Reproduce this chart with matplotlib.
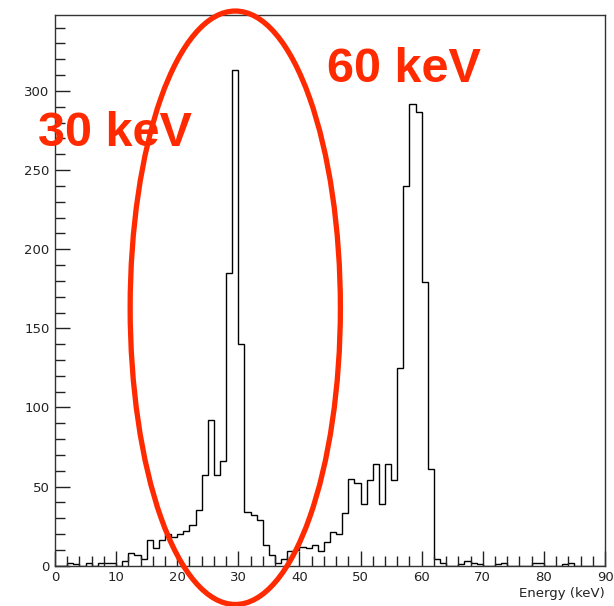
import numpy as np
import matplotlib
matplotlib.use('Agg')
import matplotlib.pyplot as plt
from matplotlib.patches import Ellipse
from matplotlib.ticker import MultipleLocator

# ── data: 1 keV bins from 0 to 90 keV ────────────────────────────────────────
bin_edges = np.arange(0, 91, 1)
counts = [
    0, 0, 2, 1, 0, 2, 0, 2, 2, 2,
    0, 3, 8, 7, 4, 16, 11, 16, 20, 18,
    20, 22, 26, 35, 57, 92, 57, 66, 185, 313,
    140, 34, 32, 29, 13, 7, 2, 4, 9, 10,
    12, 11, 13, 9, 15, 21, 20, 33, 55, 52,
    39, 54, 64, 39, 64, 54, 125, 240, 292, 287,
    179, 61, 4, 2, 0, 0, 1, 3, 2, 1,
    0, 0, 1, 2, 0, 0, 0, 0, 2, 2,
    0, 0, 0, 1, 2, 0, 0, 0, 0, 0,
]
x_ticks = [0, 10, 20, 30, 40, 50, 60, 70, 80, 90]
y_ticks = [0, 50, 100, 150, 200, 250, 300]
labels = ["30 keV", "60 keV"]

RED = "#ff2a00"
INK = "#222222"

plt.rcParams.update({"font.family": "DejaVu Sans"})

fig = plt.figure(figsize=(6.14, 6.06), dpi=100)
ax = fig.add_axes([55 / 614, 1 - 565.7 / 606, 550 / 614, 550.7 / 606])

ax.stairs(counts, bin_edges, color="black", linewidth=1.0)

ax.set_xlim(0, 90)
ax.set_ylim(0, 348)
ax.set_xticks(x_ticks)
ax.set_yticks(y_ticks)
ax.xaxis.set_minor_locator(MultipleLocator(2))
ax.yaxis.set_minor_locator(MultipleLocator(10))
ax.tick_params(which="both", direction="in", top=False, right=False,
               colors=INK, labelsize=9.5, width=1.0)
ax.tick_params(which="major", length=11, pad=4)
ax.tick_params(which="minor", length=7)
for s in ax.spines.values():
    s.set_color("#333333")
    s.set_linewidth(1.0)

ax.set_xlabel("Energy (keV)", fontsize=9.5, color=INK, loc="right", labelpad=2)

# red ellipse around the 30 keV peak, allowed to run outside the axes
ell = Ellipse((29.5, 163), width=34.4, height=375, fill=False,
              edgecolor=RED, linewidth=3.8, clip_on=False, zorder=5)
ax.add_patch(ell)

fig.text(38 / 614, 1 - 146 / 606, labels[0], color=RED, fontsize=35,
         fontweight="bold", family="Liberation Sans", va="baseline", zorder=6)
fig.text(327 / 614, 1 - 82 / 606, labels[1], color=RED, fontsize=35,
         fontweight="bold", family="Liberation Sans", va="baseline", zorder=6)

fig.savefig("out.png", dpi=100)
